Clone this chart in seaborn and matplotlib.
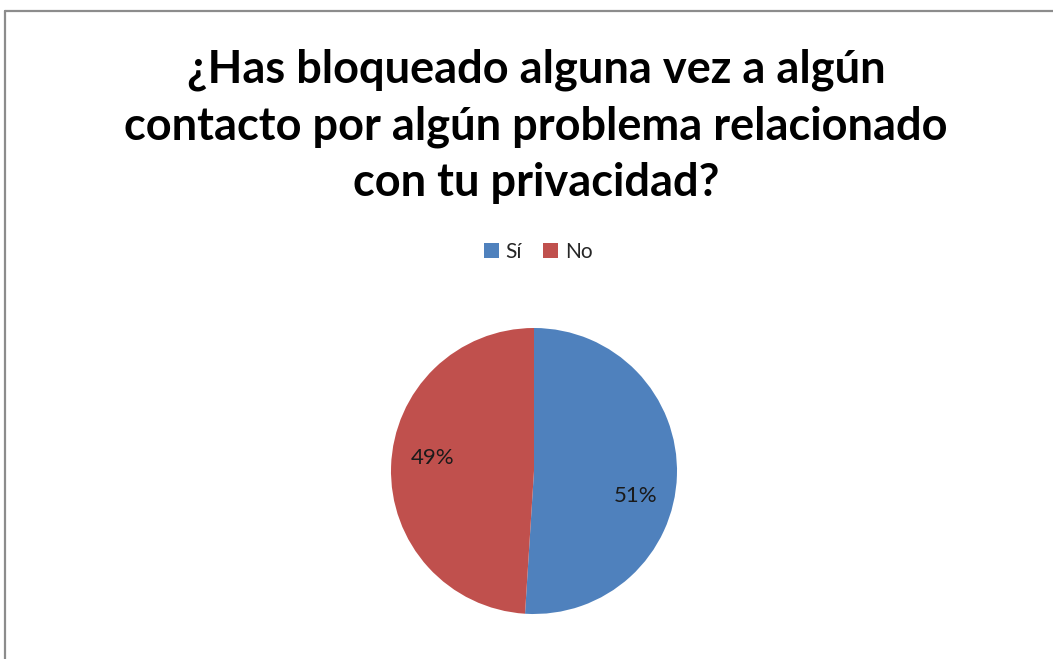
import matplotlib
matplotlib.use("Agg")
import matplotlib.pyplot as plt
from matplotlib.lines import Line2D
import seaborn as sns

# data
categories = ["Sí", "No"]
shares = [51, 49]
colors = ["#4F81BD", "#C0504D"]
title = "¿Has bloqueado alguna vez a algún\ncontacto por algún problema relacionado\ncon tu privacidad?"

sns.set_theme(style="white")
plt.rcParams["font.family"] = ["Lato", "DejaVu Sans"]

W, H = 1053, 659
fig = plt.figure(figsize=(W / 100, H / 100), dpi=100)

# outer chart frame (only top and left edges visible in the crop)
top, left = 1 - 11 / H, 5 / W
fig.add_artist(Line2D([left, 1], [top, top], transform=fig.transFigure,
                      color="#8c8c8c", linewidth=1.6))
fig.add_artist(Line2D([left, left], [0, top], transform=fig.transFigure,
                      color="#8c8c8c", linewidth=1.6))

fig.text(536 / W, 1 - 126 / H, title, ha="center", va="center",
         fontsize=32.5, fontweight="bold", linespacing=1.42, color="black")

# pie
cx, cy, r = 534, 471, 143
ax = fig.add_axes([(cx - r) / W, 1 - (cy + r) / H, 2 * r / W, 2 * r / H])
wedges, _, autotexts = ax.pie(shares, colors=colors, startangle=90, counterclock=False,
                              autopct="%1.0f%%", pctdistance=0.71, radius=1,
                              textprops={"fontsize": 16, "color": "#1a1a1a"},
                              wedgeprops={"linewidth": 0})
# Excel's "best fit" puts the labels a little off the wedge mid-angle
for t, dy in zip(autotexts, [-0.15, 0.07]):
    x, y = t.get_position()
    t.set_position((x, y + dy))
ax.set_xlim(-1, 1)
ax.set_ylim(-1, 1)
ax.set_aspect("equal")
ax.axis("off")

fig.legend(wedges, categories, loc="center", bbox_to_anchor=(538 / W, 1 - 252 / H),
           ncol=2, frameon=False, fontsize=15, handlelength=0.75, handleheight=0.75,
           handletextpad=0.3, columnspacing=1.0, labelcolor="#262626")

fig.savefig("out.png", dpi=100)
